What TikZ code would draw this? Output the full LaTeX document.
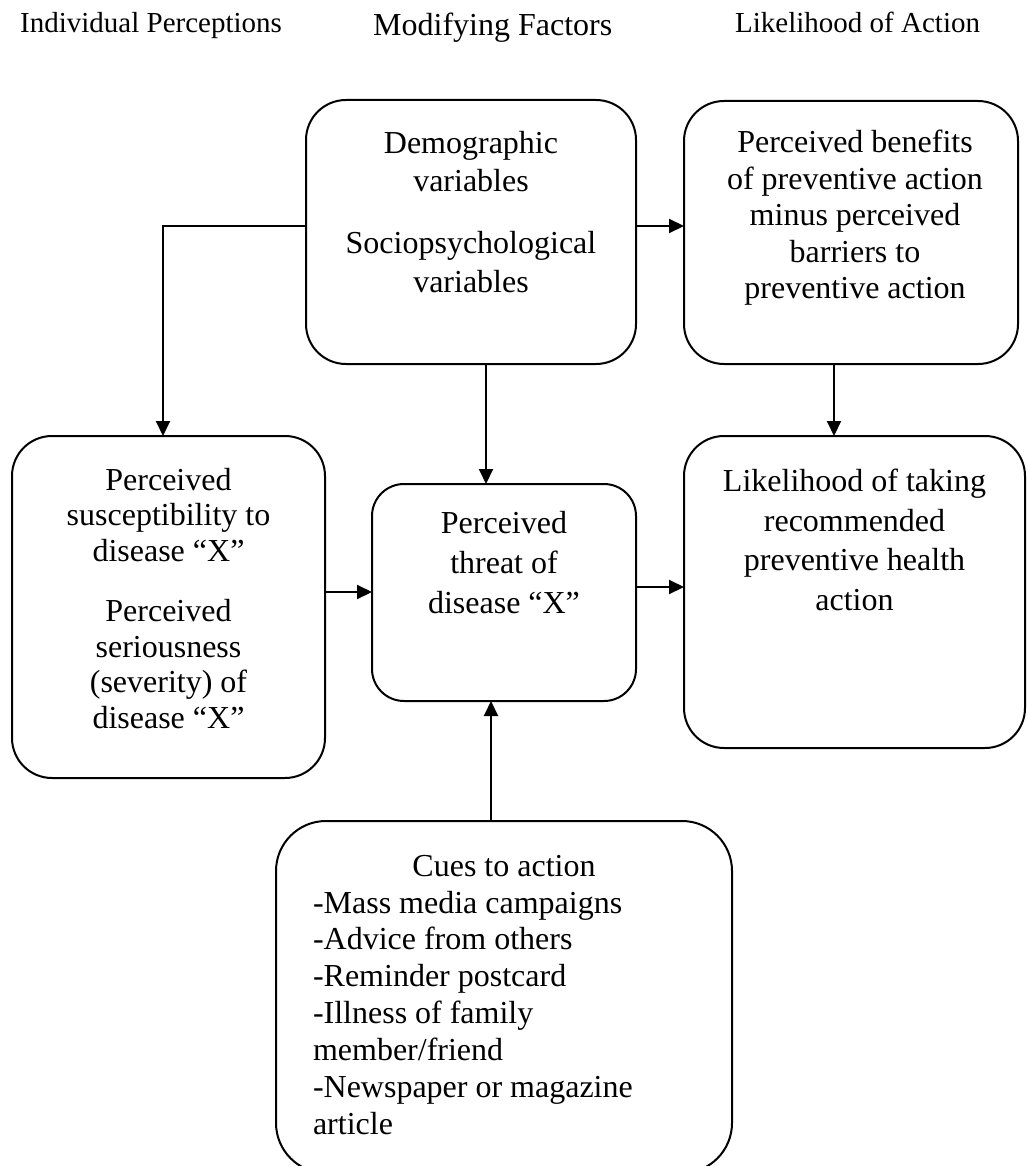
\documentclass[tikz,border=0pt]{standalone}
\usepackage{fontspec}
\setmainfont{Liberation Serif}
\usetikzlibrary{arrows.meta}

% body of a box: width, height, space above first line, line spacing, text
\newcommand{\boxbody}[5]{\parbox[c][#2][t]{#1}{\fontsize{32pt}{#4}\selectfont\centering\vspace*{#3}#5}}

\tikzset{
  box/.style={draw, line width=2pt, rounded corners=40pt, inner sep=0pt, outer sep=0pt},
  arr/.style={line width=2pt, -{Triangle[length=15pt,width=14pt]}},
  head/.style={anchor=base west, inner sep=0pt}
}

\begin{document}
\begin{tikzpicture}[x=1pt,y=-1pt]
\useasboundingbox (0,0) rectangle (1027,1166);
\clip (0,0) rectangle (1027,1166);
\fill[white] (0,0) rectangle (1027,1166);

% column headings
\node[head, font=\fontsize{29pt}{34pt}\selectfont] (h1) at (20,33) {Individual Perceptions};
\node[head, font=\fontsize{32pt}{36pt}\selectfont] (h2) at (373,36) {Modifying Factors};
\node[head, font=\fontsize{29pt}{34pt}\selectfont] (h3) at (735,33) {Likelihood of Action};

% boxes
\node[box] (demo) at (471,232)
  {\boxbody{330pt}{264pt}{31pt}{38.5pt}{Demographic\\variables\\[23.5pt]Sociopsychological\\variables}};
\node[box] (bene) at (851,232.5)
  {\boxbody{334pt}{263pt}{29pt}{36.5pt}{\hspace*{8pt}Perceived benefits\\\hspace*{8pt}of preventive action\\\hspace*{8pt}minus perceived\\\hspace*{8pt}barriers to\\\hspace*{8pt}preventive action}};
\node[box] (indiv) at (168.5,607)
  {\boxbody{313pt}{342pt}{32pt}{35.7pt}{Perceived\\susceptibility to\\disease “X”\\[24pt]Perceived\\seriousness\\(severity) of\\disease “X”}};
\node[box, rounded corners=32pt] (threat) at (504,592.5)
  {\boxbody{264pt}{217pt}{27pt}{40pt}{Perceived\\threat of\\disease “X”}};
\node[box] (like) at (854.5,592)
  {\boxbody{341pt}{312pt}{33pt}{39.5pt}{Likelihood of taking\\recommended\\preventive health\\action}};
\node[box, rounded corners=50pt] (cues) at (504,997)
  {\parbox[c][352pt][t]{456pt}{\fontsize{32pt}{36.9pt}\selectfont\vspace*{34pt}%
   {\centering Cues to action\par}%
   \raggedright\leftskip=37pt
   -Mass media campaigns\\
   -Advice from others\\
   -Reminder postcard\\
   -Illness of family\\
   member/friend\\
   -Newspaper or magazine\\
   article\par}};

% connectors
\draw[arr] ([yshift=6pt]demo.west) -| ([xshift=-5.5pt]indiv.north);
\draw[arr] ([yshift=6pt]demo.east) -- ([yshift=6pt]demo.east -| bene.west);
\draw[arr] ([xshift=15pt]demo.south) -- ([xshift=15pt]demo.south |- threat.north);
\draw[arr] ([xshift=-17pt]bene.south) -- ([xshift=-17pt]bene.south |- like.north);
\draw[arr] ([yshift=15pt]indiv.east) -- ([yshift=15pt]indiv.east -| threat.west);
\draw[arr] ([yshift=5.5pt]threat.east) -- ([yshift=5.5pt]threat.east -| like.west);
\draw[arr] ([xshift=-13pt]cues.north) -- ([xshift=-13pt]cues.north |- threat.south);
\end{tikzpicture}
\end{document}
